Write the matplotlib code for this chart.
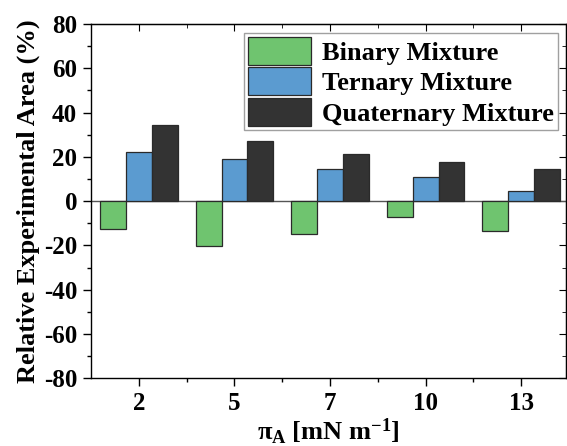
import matplotlib
matplotlib.use('Agg')
import matplotlib.pyplot as plt
import numpy as np
from matplotlib.ticker import MultipleLocator, FixedLocator

plt.rcParams['font.family'] = 'Liberation Serif'
plt.rcParams['font.weight'] = 'bold'
plt.rcParams['axes.unicode_minus'] = False
plt.rcParams['mathtext.fontset'] = 'custom'
plt.rcParams['mathtext.rm'] = 'Liberation Serif:bold'
plt.rcParams['mathtext.bf'] = 'Liberation Serif:bold'
plt.rcParams['mathtext.it'] = 'Liberation Serif:bold'

pressures = ['2', '5', '7', '10', '13']
binary = [-12.6, -20.1, -14.8, -7.1, -13.5]
ternary = [22.3, 19.2, 14.5, 10.9, 4.8]
quaternary = [34.5, 27.4, 21.2, 17.9, 14.4]

series = [('Binary Mixture', binary, '#6fc46f'),
          ('Ternary Mixture', ternary, '#5b9bd0'),
          ('Quaternary Mixture', quaternary, '#333333')]

fig = plt.figure(figsize=(5.67, 4.46), dpi=100)
ax = fig.add_axes([0.1605, 0.152, 0.838, 0.794])

x = np.arange(len(pressures))
w = 0.27
for i, (name, vals, col) in enumerate(series):
    ax.bar(x + (i - 1) * w, vals, w, color=col, edgecolor='#2a2a2a',
           linewidth=0.9, label=name, zorder=3)

ax.axhline(0, color='#555555', linewidth=1.0, zorder=2)

ax.set_xlim(-0.5, 4.47)
ax.set_ylim(-80, 80)
ax.set_xticks(x)
ax.set_xticklabels(pressures)
ax.xaxis.set_minor_locator(FixedLocator(x[:-1] + 0.5))
ax.yaxis.set_major_locator(MultipleLocator(20))
ax.yaxis.set_minor_locator(MultipleLocator(10))

ax.tick_params(axis='both', which='major', labelsize=18, length=6, width=1, pad=4)
ax.tick_params(axis='both', which='minor', length=3, width=1)
# mirrored inward ticks on top and right
secx = ax.secondary_xaxis('top')
secx.set_xticks(x)
secx.xaxis.set_minor_locator(FixedLocator(x[:-1] + 0.5))
secx.tick_params(which='major', direction='in', length=5, labeltop=False)
secx.tick_params(which='minor', direction='in', length=3)
secy = ax.secondary_yaxis('right')
secy.yaxis.set_major_locator(MultipleLocator(20))
secy.yaxis.set_minor_locator(MultipleLocator(10))
secy.tick_params(which='major', direction='in', length=5, labelright=False)
secy.tick_params(which='minor', direction='in', length=3)

for s in ax.spines.values():
    s.set_linewidth(1.0)

ax.set_ylabel('Relative Experimental Area (%)', fontsize=19, fontweight='bold', labelpad=3)
ax.set_xlabel(r'$\pi_A$ [mN m$^{-1}$]', fontsize=19, fontweight='bold', labelpad=1)

leg = ax.legend(loc='upper right', bbox_to_anchor=(0.982, 0.975), fontsize=19,
                frameon=True, fancybox=False, edgecolor='#888888',
                handlelength=2.4, handleheight=1.25, handletextpad=0.4,
                borderpad=0.15, labelspacing=0.1, borderaxespad=0)
leg.get_frame().set_linewidth(1.0)

fig.savefig('out.png', dpi=100)
